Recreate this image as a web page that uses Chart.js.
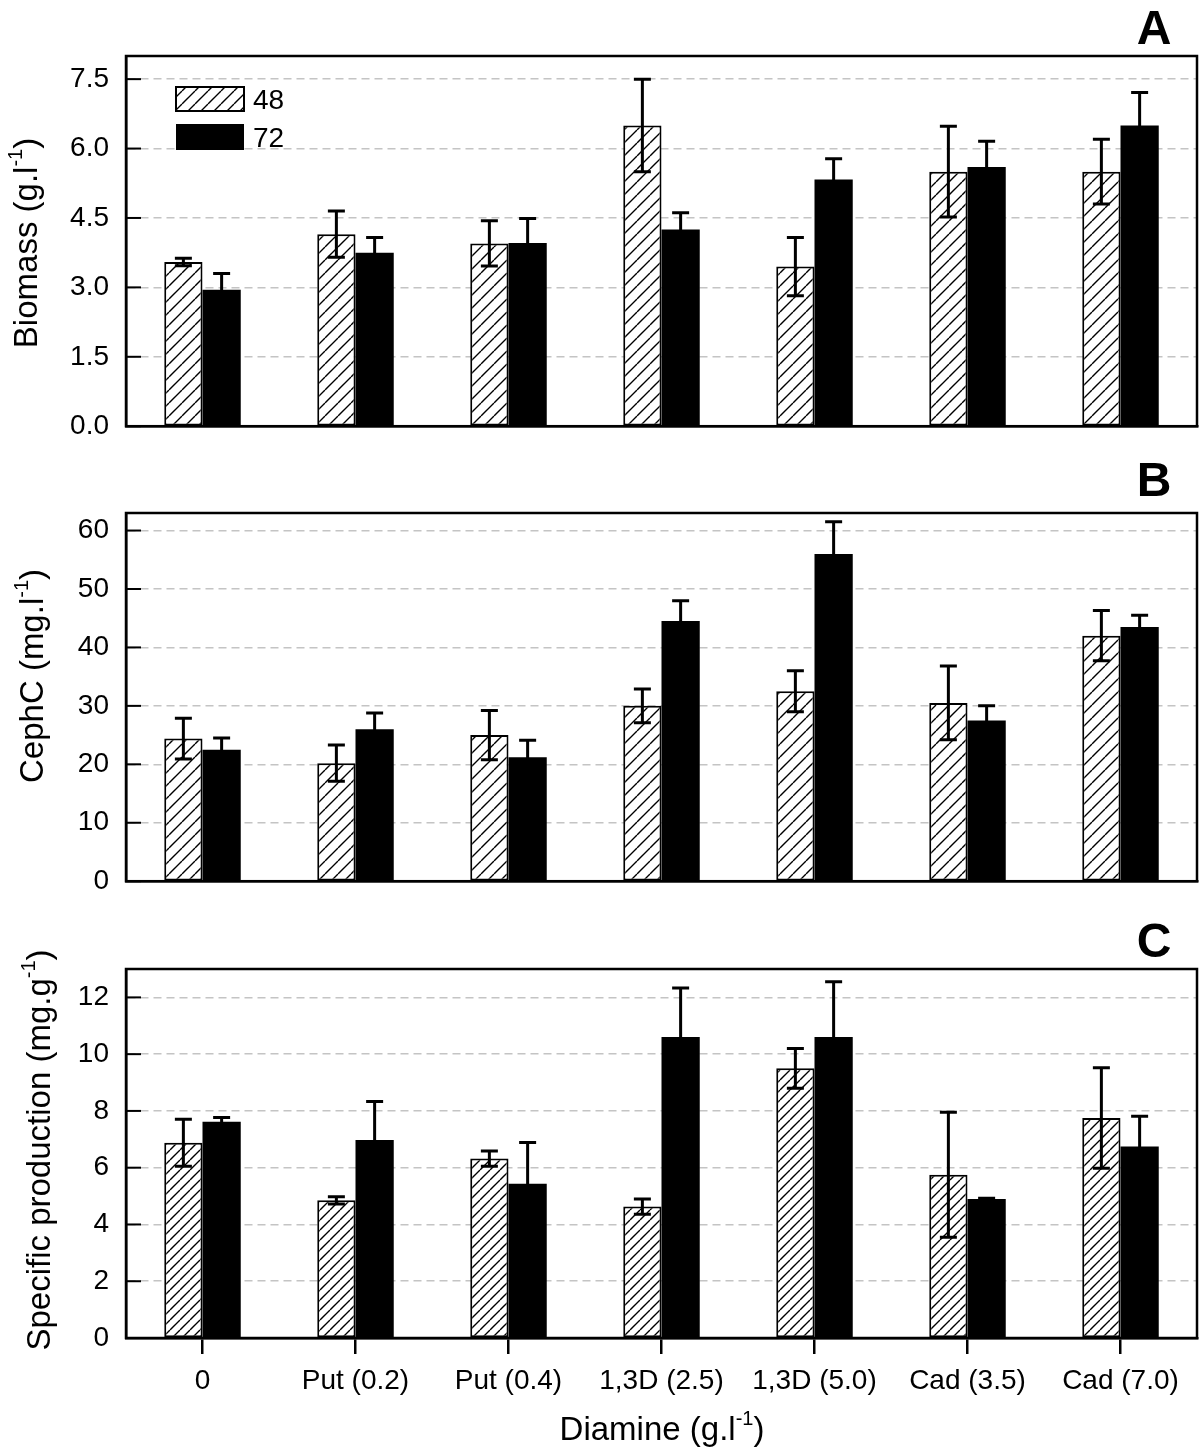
<!DOCTYPE html>
<html>
<head>
<meta charset="utf-8">
<script src="https://cdn.jsdelivr.net/npm/chart.js@4.4.1/dist/chart.umd.min.js"></script>
<style>
html,body{margin:0;padding:0;background:#fff;}
#wrap{position:relative;width:1200px;height:1451px;}
canvas{position:absolute;left:0;}
</style>
</head>
<body>
<div id="wrap">
  <canvas id="cA" width="1200" height="460" style="top:0;width:1200px;height:460px"></canvas>
  <canvas id="cB" width="1200" height="470" style="top:445px;width:1200px;height:470px"></canvas>
  <canvas id="cC" width="1200" height="561" style="top:890px;width:1200px;height:561px"></canvas>
</div>
<script>
// ---- data ----
const categories = ['0','Put (0.2)','Put (0.4)','1,3D (2.5)','1,3D (5.0)','Cad (3.5)','Cad (7.0)'];
const seriesLabels = ['48','72'];

const biomass48    = [3.55, 4.15, 3.95, 6.50, 3.45, 5.50, 5.50];
const biomass48Err = [0.08, 0.50, 0.49, 1.00, 0.63, 0.98, 0.70];
const biomass72    = [2.95, 3.75, 3.96, 4.25, 5.33, 5.60, 6.50];
const biomass72Err = [0.35, 0.33, 0.53, 0.36, 0.45, 0.56, 0.71];

const cephc48    = [24.4, 20.2, 25.0, 30.0, 32.5, 30.5, 42.0];
const cephc48Err = [3.5, 3.1, 4.2, 2.9, 3.5, 6.3, 4.3];
const cephc72    = [22.5, 26.0, 21.2, 44.5, 56.0, 27.5, 43.5];
const cephc72Err = [2.0, 2.8, 2.9, 3.5, 5.5, 2.5, 2.0];

const spec48    = [6.88, 4.85, 6.32, 4.63, 9.50, 5.75, 7.75];
const spec48Err = [0.83, 0.13, 0.27, 0.27, 0.70, 2.20, 1.77];
const spec72    = [7.62, 6.98, 5.43, 10.60, 10.60, 4.90, 6.75];
const spec72Err = [0.15, 1.35, 1.46, 1.73, 1.95, 0.02, 1.06];

const FONT = "'Liberation Sans', Arial, Helvetica, sans-serif";

// 斜線ハッチ（白地に "/"）
function hatch(size){
  const c = document.createElement('canvas');
  c.width = size; c.height = size;
  const g = c.getContext('2d');
  g.fillStyle = '#fff'; g.fillRect(0,0,size,size);
  g.strokeStyle = '#000'; g.lineWidth = 1.4;
  g.beginPath();
  for(const k of [-1,0,1]){ g.moveTo(k*size, size); g.lineTo(k*size+size, 0); }
  g.stroke();
  return g.createPattern(c, 'repeat');
}

// 上付き付きテキスト（回転可）
function supText(ctx, x, y, parts, size, rotate){
  ctx.save();
  ctx.translate(x, y);
  if(rotate) ctx.rotate(-Math.PI/2);
  const big = size + 'px ' + FONT, small = Math.round(size*0.6) + 'px ' + FONT;
  ctx.font = big; const w0 = ctx.measureText(parts[0]).width, w2 = ctx.measureText(parts[2]).width;
  ctx.font = small; const w1 = ctx.measureText(parts[1]).width;
  let cx = -(w0+w1+w2)/2;
  ctx.fillStyle = '#000'; ctx.textBaseline = 'alphabetic'; ctx.textAlign = 'left';
  ctx.font = big; ctx.fillText(parts[0], cx, 0); cx += w0;
  ctx.font = small; ctx.fillText(parts[1], cx, -size*0.45); cx += w1;
  ctx.font = big; ctx.fillText(parts[2], cx, 0);
  ctx.restore();
}

function makePanel(id, cfg){
  const pat = hatch(cfg.hatch);
  const errs = [cfg.e48, cfg.e72];
  const deco = {
    id: 'deco',
    afterDatasetsDraw(chart){
      const ctx = chart.ctx, y = chart.scales.y, ca = chart.chartArea;
      ctx.save();
      ctx.strokeStyle = '#000'; ctx.lineWidth = 3;
      [0,1].forEach(di => {
        const vals = chart.data.datasets[di].data;
        chart.getDatasetMeta(di).data.forEach((bar, i) => {
          const yT = y.getPixelForValue(vals[i] + errs[di][i]);
          const yB = y.getPixelForValue(vals[i] - errs[di][i]);
          ctx.beginPath();
          ctx.moveTo(bar.x, yT); ctx.lineTo(bar.x, yB);
          ctx.moveTo(bar.x-8.5, yT); ctx.lineTo(bar.x+8.5, yT);
          ctx.moveTo(bar.x-8.5, yB); ctx.lineTo(bar.x+8.5, yB);
          ctx.stroke();
        });
      });
      // 内向きの y 目盛り
      ctx.lineWidth = 2;
      y.ticks.forEach(t => {
        const py = y.getPixelForValue(t.value);
        ctx.beginPath(); ctx.moveTo(ca.left, py); ctx.lineTo(ca.left+15, py); ctx.stroke();
      });
      // 枠
      ctx.lineWidth = 2.5;
      ctx.strokeRect(ca.left, ca.top, ca.right-ca.left, ca.bottom-ca.top);
      // パネル記号
      ctx.fillStyle = '#000';
      ctx.font = 'bold 48px ' + FONT; ctx.textAlign = 'center'; ctx.textBaseline = 'alphabetic';
      ctx.fillText(cfg.letter, 1154, cfg.letterY);
      // 軸タイトル
      supText(ctx, cfg.titleX, cfg.titleY, cfg.title, 33, true);
      if(cfg.xTitle) supText(ctx, 662, cfg.xTitleY, cfg.xTitle, 33, false);
      // 凡例
      if(cfg.legend){
        ctx.fillStyle = pat; ctx.fillRect(176, 87, 68, 24);
        ctx.lineWidth = 2; ctx.strokeRect(176, 87, 68, 24);
        ctx.fillStyle = '#000'; ctx.fillRect(176, 124, 68, 26);
        ctx.font = '28px ' + FONT; ctx.textAlign = 'left';
        ctx.fillText(seriesLabels[0], 253, 109);
        ctx.fillText(seriesLabels[1], 253, 147);
      }
      ctx.restore();
    }
  };
  return new Chart(document.getElementById(id), {
    type: 'bar',
    data: {
      labels: categories,
      datasets: [
        {label: seriesLabels[0], data: cfg.d48, backgroundColor: pat, borderColor: '#000', borderWidth: 2, borderSkipped: false,
         categoryPercentage: 0.5, barPercentage: 1.0},
        {label: seriesLabels[1], data: cfg.d72, backgroundColor: '#000', borderWidth: 0,
         categoryPercentage: 0.5, barPercentage: 1.0},
      ]
    },
    options: {
      responsive: false, animation: false, devicePixelRatio: 1,
      layout: {padding: {top: cfg.padTop, right: 3, left: 0, bottom: 0}},
      plugins: {legend: {display: false}, tooltip: {enabled: false}},
      scales: {
        x: {
          afterFit: s => { s.height = cfg.xH; },
          grid: {display: cfg.showX, drawOnChartArea: false, drawTicks: true, tickLength: 16, offset: false, color: '#000', lineWidth: 2.5},
          border: {display: true, color: '#000', width: 2.5},
          ticks: {display: cfg.showX, color: '#000', font: {family: FONT, size: 28}, padding: 10, maxRotation: 0, autoSkip: false},
        },
        y: {
          min: 0, max: cfg.max,
          afterFit: s => { s.width = 126; },
          grid: {color: '#c4c4c4', lineWidth: 1.5, drawTicks: false},
          border: {display: true, color: '#000', width: 2.5, dash: [8,5]},
          ticks: {stepSize: cfg.step, includeBounds: false, color: '#000', font: {family: FONT, size: 28}, padding: 17,
                  callback: v => cfg.fmt(v)},
        }
      }
    },
    plugins: [deco]
  });
}

makePanel('cA', {d48: biomass48, e48: biomass48Err, d72: biomass72, e72: biomass72Err,
  max: 8, step: 1.5, fmt: v => v.toFixed(1), hatch: 13, padTop: 56, xH: 20, showX: false,
  letter: 'A', letterY: 44, title: ['Biomass (g.l','-1',')'], titleX: 37, titleY: 243, legend: true});

makePanel('cB', {d48: cephc48, e48: cephc48Err, d72: cephc72, e72: cephc72Err,
  max: 63, step: 10, fmt: v => String(v), hatch: 13, padTop: 68, xH: 9, showX: false,
  letter: 'B', letterY: 51, title: ['CephC (mg.l','-1',')'], titleX: 43, titleY: 231});

makePanel('cC', {d48: spec48, e48: spec48Err, d72: spec72, e72: spec72Err,
  max: 13, step: 2, fmt: v => String(v), hatch: 10, padTop: 79, xH: 113, showX: true,
  letter: 'C', letterY: 67, title: ['Specific production (mg.g','-1',')'], titleX: 50, titleY: 260,
  xTitle: ['Diamine (g.l','-1',')'], xTitleY: 550});
</script>
</body>
</html>
